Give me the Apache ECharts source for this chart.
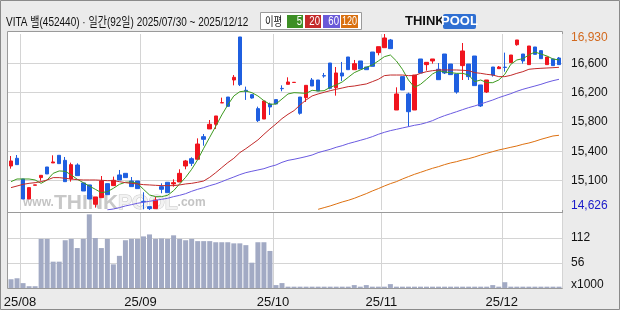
<!DOCTYPE html>
<html><head><meta charset="utf-8">
<script src="https://cdn.jsdelivr.net/npm/echarts@6/dist/echarts.min.js"></script>
<style>html,body{margin:0;padding:0;background:#ebebeb}#c{width:620px;height:310px}</style>
</head><body><div id="c"></div>
<script>
const dates = ['2025/07/30','2025/07/31',
'2025/08/01','2025/08/04','2025/08/05','2025/08/06','2025/08/07','2025/08/08','2025/08/11','2025/08/12','2025/08/13','2025/08/14','2025/08/18','2025/08/19','2025/08/20','2025/08/21','2025/08/22','2025/08/25','2025/08/26','2025/08/27','2025/08/28','2025/08/29',
'2025/09/01','2025/09/02','2025/09/03','2025/09/04','2025/09/05','2025/09/08','2025/09/09','2025/09/10','2025/09/11','2025/09/12','2025/09/15','2025/09/16','2025/09/17','2025/09/18','2025/09/19','2025/09/22','2025/09/23','2025/09/24','2025/09/25','2025/09/26','2025/09/29','2025/09/30',
'2025/10/01','2025/10/02','2025/10/10','2025/10/13','2025/10/14','2025/10/15','2025/10/16','2025/10/17','2025/10/20','2025/10/21','2025/10/22','2025/10/23','2025/10/24','2025/10/27','2025/10/28','2025/10/29','2025/10/30','2025/10/31',
'2025/11/03','2025/11/04','2025/11/05','2025/11/06','2025/11/07','2025/11/10','2025/11/11','2025/11/12','2025/11/13','2025/11/14','2025/11/17','2025/11/18','2025/11/19','2025/11/20','2025/11/21','2025/11/24','2025/11/25','2025/11/26','2025/11/27','2025/11/28',
'2025/12/01','2025/12/02','2025/12/03','2025/12/04','2025/12/05','2025/12/08','2025/12/09','2025/12/10','2025/12/11','2025/12/12'];

const openP = [15202,15303,15032,14770,14950,15050,15189,15242,15342,15276,
15032,15215,14980,14954,14701,14788,14971,14945,15085,15106,
15006,15006,14740,14670,14644,14932,14989,14967,14993,15202,
15298,15290,15586,15687,15748,16028,16105,16328,16891,16193,
16136,15953,15817,16014,16071,16218,16271,16295,16105,16097,
16328,16328,16385,16550,16228,16420,16629,16463,16577,16498,
16694,16686,16751,16852,15935,16372,16145,15935,16603,16529,
16577,16468,16668,16537,16406,16516,16537,16642,16263,16171,
16498,16476,16496,16555,16790,16668,16529,16760,16712,16529,
16603,16616];
const closeP = [15268,15220,14770,14919,14955,15080,15098,15255,15233,14997,
15220,15076,14875,14770,14797,15006,14827,15015,15019,15050,
14932,14906,14735,14644,14757,14897,14853,14984,15106,15268,
15237,15490,15551,15748,15857,16031,15983,16363,16267,16180,
16092,15796,16053,15975,16014,16214,16302,16298,15892,16258,
16249,16184,16380,16219,16420,16380,16463,16542,16472,16463,
16507,16764,16878,16738,16145,16197,15913,16393,16420,16559,
16603,16332,16420,16398,16171,16708,16372,16254,15988,16328,
16393,16498,16492,16655,16852,16577,16773,16664,16607,16629,
16516,16529];
const lowP = [15167,15220,14770,14770,14950,15010,15098,15242,15233,14997,
14997,15076,14875,14770,14657,14788,14827,14945,15019,15050,
14932,14906,14635,14626,14644,14845,14853,14932,14993,15159,
15202,15290,15468,15687,15687,16028,15983,16258,16249,16067,
16084,15778,15817,15870,16014,16180,16271,16295,15874,16040,
16249,16184,16358,16206,16123,16315,16463,16463,16472,16463,
16507,16651,16751,16738,15935,16197,15717,15935,16420,16450,
16542,16332,16406,16398,16149,16328,16328,16254,15975,16158,
16372,16476,16437,16555,16777,16542,16529,16664,16607,16529,
16516,16529];
const highP = [15333,15346,15032,14919,14955,15080,15189,15342,15342,15320,
15246,15237,14980,14954,14797,15071,14971,15063,15150,15106,
15058,15006,14858,14670,14801,14975,14989,15028,15159,15281,
15316,15564,15621,15804,15857,16097,16105,16393,16891,16241,
16145,15979,16053,16031,16071,16258,16363,16298,16105,16258,
16354,16328,16420,16550,16498,16564,16629,16590,16577,16498,
16694,16764,16930,16865,16232,16372,16162,16393,16603,16559,
16603,16550,16668,16537,16406,16812,16537,16642,16263,16328,
16498,16511,16686,16655,16852,16668,16773,16760,16712,16629,
16603,16629];
const volume = [19.6,21.8,10.9,4,4,110,110,59,59,107,
110,89.5,110,165,112,89.5,110,53,72,107,
110,110,115.6,120,110,111,110,118,110,107,
110,105,105,105,102.5,102.5,102.5,100,100,96,
56.7,102.5,102.5,83,6.5,11,3,3,3,3,
3,3,3,3,3,3,3,6.5,3,6.5,
3,3,3,8.7,3,3,3,3,3,3,
3,3,3,3,3,3,3,3,3,3,
6.5,3,13,3,3,3,3,3,3,3,
3,3];
const ma5 = [14997,15032,15032,15032,15019,14975,15019,15106,15137,15133,
15085,15028,14984,14940,14897,14853,14866,14910,14962,14989,
14993,14975,14897,14823,14801,14801,14818,14879,14967,15054,
15159,15285,15434,15578,15722,15870,16001,16119,16175,16184,
16162,16119,16057,16009,16014,16079,16145,16162,16158,16153,
16193,16184,16188,16232,16263,16302,16363,16424,16459,16494,
16524,16577,16633,16655,16577,16468,16328,16232,16271,16337,
16407,16450,16433,16424,16415,16415,16393,16306,16328,16293,
16293,16328,16402,16533,16590,16607,16655,16694,16668,16642,
16603,16590];
const ma20 = [14919,14940,14962,14975,14984,14997,15019,15050,15050,15041,
15032,15023,15019,15019,15019,15015,15010,15010,14997,14984,
14975,14967,14958,14954,14949,14945,14945,14945,14954,14967,
14975,14989,15006,15054,15115,15181,15246,15303,15377,15429,
15486,15543,15617,15687,15752,15822,15879,15927,16001,16066,
16119,16145,16167,16188,16206,16223,16241,16249,16263,16276,
16306,16337,16385,16393,16393,16393,16385,16385,16415,16437,
16450,16459,16459,16459,16459,16455,16450,16424,16415,16402,
16393,16372,16372,16389,16415,16437,16468,16476,16481,16485,
16489,16494];
const ma60 = [null,null,null,null,null,null,null,null,null,null,
null,null,null,null,null,null,14628,14639,14657,14679,
14696,14714,14727,14740,14753,14766,14779,14801,14818,14840,
14871,14897,14919,14945,14967,14997,15028,15058,15089,15115,
15133,15150,15167,15194,15215,15250,15276,15290,15307,15325,
15346,15377,15399,15420,15447,15468,15495,15516,15538,15560,
15586,15617,15643,15665,15682,15700,15717,15735,15748,15770,
15796,15831,15861,15887,15913,15940,15966,15988,16014,16040,
16066,16097,16123,16149,16180,16206,16228,16249,16271,16297,
16319,16337];
const ma120 = [null,null,null,null,null,null,null,null,null,null,
null,null,null,null,null,null,null,null,null,null,
null,null,null,null,null,null,null,null,null,null,
null,null,null,null,null,null,null,null,null,null,
null,null,null,null,null,null,null,null,null,null,
null,14635,14657,14679,14705,14731,14753,14779,14810,14840,
14875,14906,14940,14971,14997,15032,15063,15093,15119,15146,
15172,15194,15220,15242,15259,15281,15298,15320,15346,15368,
15390,15412,15429,15447,15464,15486,15503,15525,15551,15573,
15595,15604];
const priceTickLabels = ['14,626','15,100','15,400','15,800','16,200','16,600','16,930'];
const volTickLabels = ['x1000','56','112',''];
const maLegend = ['5','20','60','120'];
const titleText = 'VITA 밸(452440) · 일간(92일) 2025/07/30 ~ 2025/12/12';

const FONT = "'Liberation Sans','Noto Sans CJK KR',sans-serif";
const GRIDC = '#d4d4d4';
const monthStart = (idx) => idx > 0 && dates[idx].slice(5,7) !== dates[idx-1].slice(5,7);
const maColors = ['#3d9a1f','#c22a2a','#6a5ae0','#dd7010'];

const chart = echarts.init(document.getElementById('c'), null, {renderer:'canvas'});
const last = priceTickLabels.length - 1;
const option = {
  animation: false,
  backgroundColor: '#ebebeb',
  grid: [
    {left: 8, top: 34, width: 554, height: 176},
    {left: 8, top: 213, width: 554, height: 75}
  ],
  xAxis: [
    {type:'category', gridIndex:0, data: dates, boundaryGap: true,
     axisLine:{show:false}, axisTick:{show:false}, axisLabel:{show:false},
     splitLine:{show:true, interval:(i)=>monthStart(i), lineStyle:{color:GRIDC, width:1}}},
    {type:'category', gridIndex:1, data: dates, boundaryGap: true,
     axisLine:{show:false}, axisTick:{show:false},
     axisLabel:{show:true, interval:(i)=>monthStart(i), formatter:(v)=>v.slice(2,4)+'/'+v.slice(5,7),
       margin: 8, color:'#111', fontSize: 13, fontFamily: FONT, padding:[0,6,0,0]},
     splitLine:{show:true, interval:(i)=>monthStart(i), lineStyle:{color:GRIDC, width:1}}}
  ],
  yAxis: [
    {type:'value', gridIndex:0, position:'right', min:14626, max:16930, interval:384, scale:true,
     axisLine:{show:false}, axisTick:{show:false},
     splitLine:{show:true, showMinLine:false, showMaxLine:false, lineStyle:{color:GRIDC, width:1}},
     axisLabel:{margin: 9, color:'#111', fontSize: 12, fontFamily: FONT,
       formatter:(v,i)=> i===0 ? '{lo|'+priceTickLabels[0]+'}' : (i===last ? '{hi|'+priceTickLabels[last]+'}' : priceTickLabels[i]),
       rich:{lo:{color:'#1a1ac8', fontSize:12, fontFamily:FONT, padding:[0,0,8,0]},
             hi:{color:'#d2691e', fontSize:12, fontFamily:FONT, padding:[8,0,0,0]}}}},
    {type:'value', gridIndex:1, position:'right', min:0, max:168, interval:56,
     axisLine:{show:false}, axisTick:{show:false},
     splitLine:{show:true, showMinLine:false, showMaxLine:false, lineStyle:{color:GRIDC, width:1}},
     axisLabel:{margin: 9, color:'#111', fontSize: 12, fontFamily: FONT,
       formatter:(v,i)=> i===0 ? '{b|'+volTickLabels[0]+'}' : volTickLabels[i],
       rich:{b:{fontSize:12, fontFamily:FONT, color:'#111', padding:[0,0,6,0]}}}}
  ],
  series: [
    {type:'candlestick', xAxisIndex:0, yAxisIndex:0, barWidth: 4,
     data: dates.map((d,i)=>[openP[i], closeP[i], lowP[i], highP[i]]),
     itemStyle:{color:'#f0141e', color0:'#1f5fe0', borderColor:'#f0141e', borderColor0:'#1f5fe0', borderWidth:1}},
    {type:'line', name:'5', xAxisIndex:0, yAxisIndex:0, data: ma5, showSymbol:false, symbol:'none', lineStyle:{color:maColors[0], width:1}},
    {type:'line', name:'20', xAxisIndex:0, yAxisIndex:0, data: ma20, showSymbol:false, symbol:'none', lineStyle:{color:maColors[1], width:1}},
    {type:'line', name:'60', xAxisIndex:0, yAxisIndex:0, data: ma60, showSymbol:false, symbol:'none', lineStyle:{color:maColors[2], width:1}},
    {type:'line', name:'120', xAxisIndex:0, yAxisIndex:0, data: ma120, showSymbol:false, symbol:'none', lineStyle:{color:maColors[3], width:1}},
    {type:'bar', xAxisIndex:1, yAxisIndex:1, data: volume, barWidth: 5, itemStyle:{color:'#a2aac4'}}
  ],
  graphic: [
    {type:'rect', z:-100, shape:{x:7.5, y:31.5, width:555, height:257}, style:{fill:'#fff', stroke:'#9a9a9a', lineWidth:1}},
    {type:'text', z:-50, left:23, top:192, style:{
      text:'{a|www.}{b|THINK}{c|POOL}{d|.com}',
      rich:{a:{fontSize:12, fontWeight:'bold', fill:'#c4c4c4', fontFamily:'Liberation Sans'},
            b:{fontSize:21, fontWeight:'bold', fill:'#c8c8c8', fontFamily:'Liberation Sans'},
            c:{fontSize:21, fontWeight:'bold', fill:'#f2f2f2', stroke:'#c8c8c8', lineWidth:1, fontFamily:'Liberation Sans'},
            d:{fontSize:12, fontWeight:'bold', fill:'#c4c4c4', fontFamily:'Liberation Sans'}}}},
    {type:'line', z:50, shape:{x1:7.5, y1:212.5, x2:562.5, y2:212.5}, style:{stroke:'#9a9a9a', lineWidth:1}},
    {type:'rect', z:50, shape:{x:0.5, y:0.5, width:619, height:309}, style:{fill:null, stroke:'#8a8a8a', lineWidth:1}},
    {type:'text', z:50, x:6, y:22, scaleX:0.77, style:{text:titleText, fill:'#111', font:"13px "+FONT, textVerticalAlign:'middle'}},
    {type:'rect', z:50, shape:{x:260.5, y:12.5, width:101, height:17}, style:{fill:'#fff', stroke:'#9a9a9a', lineWidth:1}},
    {type:'text', z:51, x:265, y:21.5, scaleX:0.78, style:{text:'이평', fill:'#111', font:"12px 'Noto Sans CJK KR'", textVerticalAlign:'middle'}},
    {type:'rect', z:51, shape:{x:287, y:15, width:16, height:13}, style:{fill:'#3d8f25'}},
    {type:'rect', z:51, shape:{x:305, y:15, width:16, height:13}, style:{fill:'#c42a2a'}},
    {type:'rect', z:51, shape:{x:323, y:15, width:17, height:13}, style:{fill:'#6a5ad8'}},
    {type:'rect', z:51, shape:{x:341, y:15, width:17, height:13}, style:{fill:'#d9700f'}},
    {type:'text', z:52, x:302, y:21.5, scaleX:0.8, style:{text:maLegend[0], fill:'#fff', font:"12px "+FONT, textAlign:'right', textVerticalAlign:'middle'}},
    {type:'text', z:52, x:320, y:21.5, scaleX:0.8, style:{text:maLegend[1], fill:'#fff', font:"12px "+FONT, textAlign:'right', textVerticalAlign:'middle'}},
    {type:'text', z:52, x:339, y:21.5, scaleX:0.8, style:{text:maLegend[2], fill:'#fff', font:"12px "+FONT, textAlign:'right', textVerticalAlign:'middle'}},
    {type:'text', z:52, x:357, y:21.5, scaleX:0.75, style:{text:maLegend[3], fill:'#fff', font:"12px "+FONT, textAlign:'right', textVerticalAlign:'middle'}},
    {type:'text', z:51, x:405, y:21.5, style:{text:'THINK', fill:'#111', font:"bold 13px 'Liberation Sans'", textVerticalAlign:'middle'}},
    {type:'rect', z:51, shape:{x:443, y:14, width:33, height:15, r:2}, style:{fill:'#2f6fd2'}},
    {type:'text', z:52, x:459.5, y:21.5, style:{text:'POOL', fill:'#fff', font:"bold 13px 'Liberation Sans'", textAlign:'center', textVerticalAlign:'middle'}}
  ]
};
chart.setOption(option);
</script></body></html>
